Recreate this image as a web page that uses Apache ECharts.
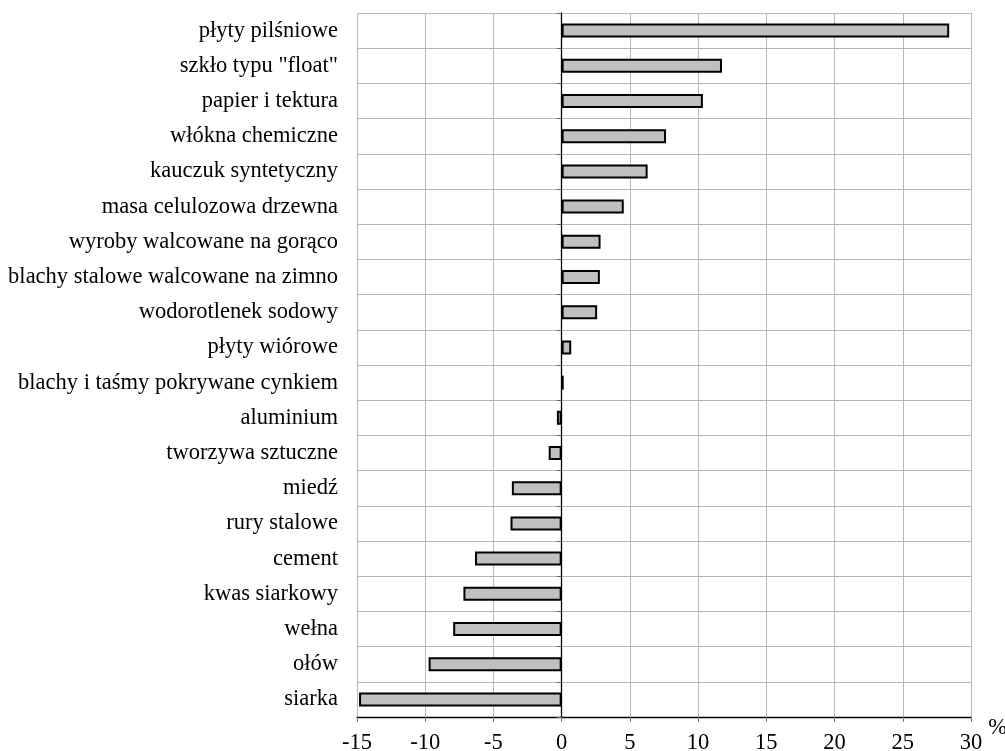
<!DOCTYPE html>
<html>
<head>
<meta charset="utf-8">
<script src="https://cdn.jsdelivr.net/npm/echarts@6/dist/echarts.min.js"></script>
<style>
html,body{margin:0;padding:0;background:#fff;}
#chart{width:1005px;height:751px;}
</style>
</head>
<body>
<div id="chart"></div>
<script>
const categories = [
  'płyty pilśniowe',
  'szkło typu "float"',
  'papier i tektura',
  'włókna chemiczne',
  'kauczuk syntetyczny',
  'masa celulozowa drzewna',
  'wyroby walcowane na gorąco',
  'blachy stalowe walcowane na zimno',
  'wodorotlenek sodowy',
  'płyty wiórowe',
  'blachy i taśmy pokrywane cynkiem',
  'aluminium',
  'tworzywa sztuczne',
  'miedź',
  'rury stalowe',
  'cement',
  'kwas siarkowy',
  'wełna',
  'ołów',
  'siarka'
];
const values = [28.4, 11.75, 10.35, 7.65, 6.3, 4.55, 2.85, 2.8, 2.6, 0.7, 0.15, -0.35, -0.95, -3.65, -3.75, -6.35, -7.2, -7.95, -9.75, -14.85];
const xMin = -15, xMax = 30, xStep = 5;
const unitLabel = '%';

const font = '"Liberation Serif", "Times New Roman", serif';
const chart = echarts.init(document.getElementById('chart'), null, {renderer: 'canvas'});
chart.setOption({
  animation: false,
  backgroundColor: '#ffffff',
  grid: {left: 357, right: 34, top: 13, bottom: 34, containLabel: false, outerBoundsMode: 'none'},
  xAxis: {
    type: 'value',
    min: xMin, max: xMax, interval: xStep,
    name: unitLabel,
    nameLocation: 'end',
    nameGap: 11,
    nameTextStyle: {fontFamily: font, fontSize: 22.5, color: '#000', verticalAlign: 'top'},
    axisLine: {show: true, onZero: false, lineStyle: {color: '#000', width: 1.3}},
    axisTick: {show: true, length: 5, lineStyle: {color: '#777'}},
    axisLabel: {fontFamily: font, fontSize: 22.5, color: '#000', margin: 15},
    splitLine: {show: true, lineStyle: {color: '#b8b8b8', width: 1}}
  },
  yAxis: [{
    type: 'category',
    data: categories,
    inverse: true,
    position: 'left',
    axisLine: {show: false, onZero: false},
    axisTick: {show: false},
    axisLabel: {fontFamily: font, fontSize: 22.5, color: '#000', margin: 19},
    splitLine: {show: true, lineStyle: {color: '#b8b8b8', width: 1}}
  }, {
    type: 'category',
    data: categories,
    inverse: true,
    position: 'left',
    axisLine: {show: true, onZero: true, lineStyle: {color: '#000', width: 1.3}},
    axisTick: {show: true, length: 5, inside: false, lineStyle: {color: '#666'}},
    axisLabel: {show: false},
    splitLine: {show: false}
  }],
  series: [{
    type: 'bar',
    yAxisIndex: 0,
    data: values,
    barWidth: 14,
    itemStyle: {color: '#c0c0c0', borderColor: '#000', borderWidth: 2}
  }]
});
</script>
</body>
</html>
